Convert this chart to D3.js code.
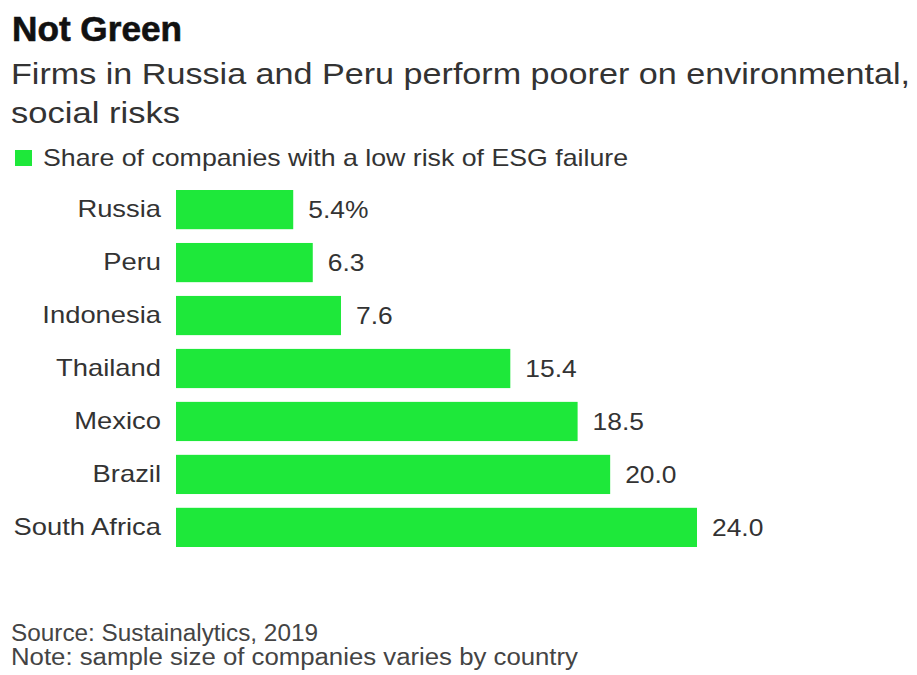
<!DOCTYPE html>
<html>
  <head>
    <meta charset="utf-8">
    <title>Not Green</title>
    <script src="https://d3js.org/d3.v7.min.js"></script>
    <style>
      body { margin:0; background:#fff; }
      text { font-family:"Liberation Sans", Arial, sans-serif; }
    </style>
  </head>
  <body>
    <svg id="chart" width="917" height="675"></svg>
    <script>
    // data
    var countries = ['Russia', 'Peru', 'Indonesia', 'Thailand', 'Mexico', 'Brazil', 'South Africa'];
    var shares = [5.4, 6.3, 7.6, 15.4, 18.5, 20.0, 24.0];
    var valueLabels = ['5.4%', '6.3', '7.6', '15.4', '18.5', '20.0', '24.0'];

    var green = '#1ee83a';
    var svg = d3.select('#chart');

    svg.append('rect').attr('width', 917).attr('height', 675).attr('fill', '#fff');

    // the reference type is wider than Liberation Sans, so stretch to its width
    function fit(sel, w) {
      sel.attr('textLength', w).attr('lengthAdjust', 'spacingAndGlyphs');
    }
    function widen(sel, k) {
      sel.each(function() {
        var len = this.getComputedTextLength();
        d3.select(this).attr('textLength', len * k).attr('lengthAdjust', 'spacingAndGlyphs');
      });
    }

    // header
    svg.append('text').attr('x', 12).attr('y', 41)
      .style('font-size', '35px').style('font-weight', 'bold')
      .attr('fill', '#111').attr('stroke', '#111').attr('stroke-width', 0.6)
      .text('Not Green').call(fit, 170);
    svg.append('text').attr('x', 11).attr('y', 84)
      .style('font-size', '29px').attr('fill', '#333')
      .text('Firms in Russia and Peru perform poorer on environmental,').call(fit, 899);
    svg.append('text').attr('x', 11).attr('y', 123)
      .style('font-size', '29px').attr('fill', '#333')
      .text('social risks').call(fit, 169);

    // legend
    svg.append('rect').attr('x', 15).attr('y', 150).attr('width', 17).attr('height', 16).attr('fill', green);
    svg.append('text').attr('x', 43).attr('y', 166)
      .style('font-size', '24px').attr('fill', '#333')
      .text('Share of companies with a low risk of ESG failure').call(fit, 585);

    // chart
    var x = d3.scaleLinear().domain([0, 24]).range([176, 697]);
    var y = d3.scaleBand().domain(countries).range([190, 547]).paddingInner(0.26).paddingOuter(0);

    var yAxis = d3.axisLeft(y).tickSize(0).tickPadding(15);
    var ga = svg.append('g').attr('transform', 'translate(176,0)').call(yAxis);
    ga.select('.domain').remove();
    ga.selectAll('text').style('font-size', '24px').attr('fill', '#333')
      .style('font-family', '"Liberation Sans", Arial, sans-serif')
      .call(widen, 1.14);

    svg.selectAll('rect.bar').data(countries).enter().append('rect')
      .attr('class', 'bar')
      .attr('x', x(0))
      .attr('y', d => y(d))
      .attr('width', (d, i) => x(shares[i]) - x(0))
      .attr('height', y.bandwidth())
      .attr('fill', green);

    svg.selectAll('text.val').data(countries).enter().append('text')
      .attr('class', 'val')
      .attr('x', (d, i) => x(shares[i]) + 15)
      .attr('y', d => y(d) + y.bandwidth() / 2)
      .attr('dy', '0.35em')
      .style('font-size', '24px').attr('fill', '#333')
      .text((d, i) => valueLabels[i])
      .call(widen, 1.1);

    // footer
    svg.append('text').attr('x', 11).attr('y', 641)
      .style('font-size', '23px').attr('fill', '#444')
      .text('Source: Sustainalytics, 2019').call(fit, 307);
    svg.append('text').attr('x', 11).attr('y', 665)
      .style('font-size', '23px').attr('fill', '#444')
      .text('Note: sample size of companies varies by country').call(fit, 567);
    </script>
  </body>
</html>
